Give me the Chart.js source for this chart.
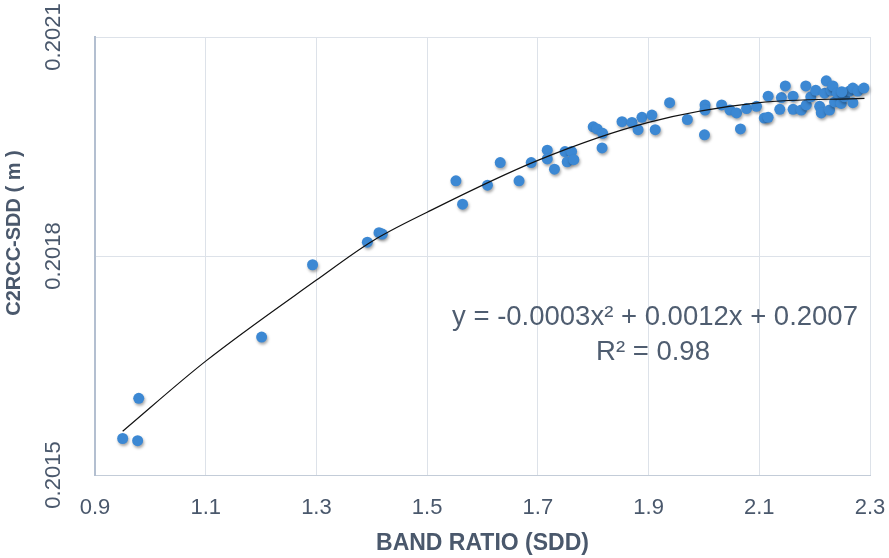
<!DOCTYPE html>
<html>
<head>
<meta charset="utf-8">
<script src="https://cdn.jsdelivr.net/npm/chart.js@4.4.1/dist/chart.umd.min.js"></script>
<style>
  html, body { margin: 0; padding: 0; background: #fff; }
  #chart { display: block; }
</style>
</head>
<body>
<canvas id="chart" width="889" height="558"></canvas>
<script>
// band ratio vs C2RCC SDD
const sddRatio = [
  0.950, 0.977, 0.979, 1.201, 1.293, 1.392, 1.413, 1.419, 1.552, 1.564,
  1.609, 1.632, 1.666, 1.688, 1.717, 1.717, 1.730, 1.749, 1.761, 1.753,
  1.765, 1.800, 1.807, 1.817, 1.816, 1.852, 1.870, 1.881, 1.888, 1.906,
  1.912, 1.938, 1.970, 2.002, 2.002, 2.001, 2.032, 2.047, 2.059, 2.066,
  2.077, 2.095, 2.109, 2.116, 2.116, 2.140, 2.147, 2.137, 2.161, 2.161,
  2.176, 2.184, 2.185, 2.193, 2.202, 2.209, 2.212, 2.218, 2.221, 2.227,
  2.230, 2.233, 2.236, 2.241, 2.248, 2.254, 2.263, 2.269, 2.269, 2.278,
  2.289, 2.249
];
const c2rccSdd = [
  0.201550, 0.201547, 0.201605, 0.201689, 0.201788, 0.201819, 0.201832, 0.201830, 0.201903, 0.201871,
  0.201897, 0.201928, 0.201903, 0.201928, 0.201945, 0.201933, 0.201919, 0.201943, 0.201943, 0.201929,
  0.201932, 0.201977, 0.201974, 0.201968, 0.201948, 0.201984, 0.201983, 0.201973, 0.201990, 0.201993,
  0.201973, 0.202010, 0.201987, 0.202007, 0.202000, 0.201966, 0.202007, 0.202000, 0.201996, 0.201974,
  0.202002, 0.202005, 0.201989, 0.201990, 0.202019, 0.202017, 0.202033, 0.202001, 0.202019, 0.202001,
  0.202000, 0.202033, 0.202007, 0.202018, 0.202027, 0.202005, 0.201996, 0.202023, 0.202040, 0.202000,
  0.202027, 0.202033, 0.202011, 0.202023, 0.202009, 0.202018, 0.202026, 0.202030, 0.202010, 0.202026,
  0.202030, 0.202025
];

// polynomial trend line
const trendRatio = [0.95, 1.1, 1.3, 1.4, 1.5, 1.7, 1.9, 2.1, 2.29];
const trendSdd = [0.20156, 0.201656, 0.201767, 0.20182, 0.20186, 0.201931, 0.201983, 0.20201, 0.202016];

const xTicks = [0.9, 1.1, 1.3, 1.5, 1.7, 1.9, 2.1, 2.3];
const yTicks = [0.2015, 0.2018, 0.2021];

const eqLines = ['y = -0.0003x\u00b2 + 0.0012x + 0.2007', 'R\u00b2 = 0.98'];
const yTitle = 'C2RCC-SDD ( m )';

const textColor = '#4a586c';
const gridColor = '#dde2e9';
const fontFamily = '"Liberation Sans", Arial, sans-serif';

// shadow under the markers, like the excel style
const shadowPlugin = {
  id: 'markerShadow',
  beforeDatasetDraw(chart, args) {
    if (args.index !== 1) return;
    const ctx = chart.ctx;
    ctx.save();
    ctx.shadowColor = 'rgba(0,0,0,0.35)';
    ctx.shadowBlur = 3;
    ctx.shadowOffsetX = 1;
    ctx.shadowOffsetY = 2;
  },
  afterDatasetDraw(chart, args) {
    if (args.index !== 1) return;
    chart.ctx.restore();
  }
};

// y title and the equation text
const textPlugin = {
  id: 'extraText',
  afterDraw(chart) {
    const ctx = chart.ctx;
    ctx.save();
    ctx.fillStyle = textColor;
    ctx.textAlign = 'center';
    ctx.textBaseline = 'middle';

    ctx.save();
    ctx.translate(14, 233);
    ctx.rotate(-Math.PI / 2);
    ctx.font = 'bold 20px ' + fontFamily;
    ctx.fillText(yTitle, 0, 0);
    ctx.restore();

    ctx.font = '27.5px ' + fontFamily;
    ctx.fillStyle = '#4f5d70';
    ctx.fillText(eqLines[0], 655, 317);
    ctx.fillText(eqLines[1], 653, 352);
    ctx.restore();
  }
};

const ctx = document.getElementById('chart').getContext('2d');

new Chart(ctx, {
  type: 'scatter',
  data: {
    datasets: [
      {
        type: 'line',
        label: 'Poly. trend',
        data: trendRatio.map((x, i) => ({ x: x, y: trendSdd[i] })),
        borderColor: '#111111',
        borderWidth: 1.2,
        pointRadius: 0,
        fill: false,
        cubicInterpolationMode: 'monotone'
      },
      {
        label: 'C2RCC-SDD',
        data: sddRatio.map((x, i) => ({ x: x, y: c2rccSdd[i] })),
        backgroundColor: '#3c88d3',
        borderWidth: 0,
        pointRadius: 5.5,
        clip: false
      }
    ]
  },
  options: {
    responsive: false,
    animation: false,
    layout: { padding: { top: 37, right: 19, left: 0, bottom: 0 } },
    plugins: {
      legend: { display: false },
      tooltip: { enabled: false }
    },
    scales: {
      x: {
        type: 'linear',
        min: 0.9,
        max: 2.3,
        afterBuildTicks: s => { s.ticks = xTicks.map(v => ({ value: v })); },
        afterFit: s => { s.height = 83; s.paddingLeft = 0; s.paddingRight = 0; },
        ticks: {
          maxRotation: 0,
          padding: 20,
          color: textColor,
          font: { family: fontFamily, size: 22 },
          callback: v => v.toFixed(1)
        },
        grid: { color: gridColor, drawTicks: false },
        border: { color: '#c3ccd8', width: 1 },
        title: {
          display: true,
          text: 'BAND RATIO (SDD)',
          color: textColor,
          font: { family: fontFamily, size: 23, weight: 'bold' },
          padding: { top: 0, bottom: 1 }
        }
      },
      y: {
        type: 'linear',
        min: 0.2015,
        max: 0.2021,
        afterBuildTicks: s => { s.ticks = yTicks.map(v => ({ value: v })); },
        afterFit: s => { s.width = 95; },
        ticks: {
          minRotation: 90,
          maxRotation: 90,
          crossAlign: 'center',
          padding: 7,
          color: textColor,
          font: { family: fontFamily, size: 22 },
          callback: v => v.toFixed(4)
        },
        grid: { color: gridColor, drawTicks: false },
        border: { color: '#b3bfd0', width: 2 }
      }
    }
  },
  plugins: [shadowPlugin, textPlugin]
});
</script>
</body>
</html>
